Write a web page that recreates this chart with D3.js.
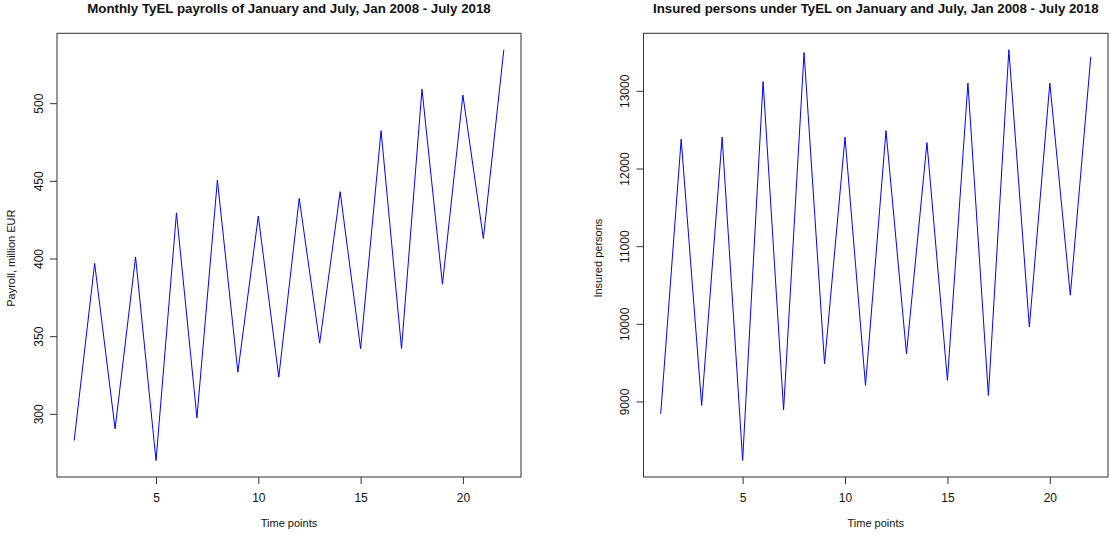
<!DOCTYPE html>
<html lang="en">
<head>
<meta charset="UTF-8">
<title>TyEL payrolls and insured persons</title>
<script src="https://cdn.jsdelivr.net/npm/d3@7"></script>
<style>
  body { margin: 0; background: #fff; }
  svg text { font-family: "Liberation Sans", Arial, sans-serif; fill: #111; }
</style>
</head>
<body>
<div id="chart"></div>
<script>
// January / July observations, Jan 2008 - July 2018
const timePoints = [1, 2, 3, 4, 5, 6, 7, 8, 9, 10, 11, 12, 13, 14, 15, 16, 17, 18, 19, 20, 21, 22]
const payroll = [282.8, 396.8, 290.3, 401, 269.9, 429.4, 297.4, 450.5, 326.8, 427.3, 323.6,
                 438.7, 345.5, 443, 341.9, 482.3, 342, 509, 383.4, 505.2, 412.9, 534.4]
const insured = [8841, 12377, 8948, 12403, 8239, 13120, 8893, 13494, 9486, 12403, 9206,
                 12488, 9615, 12333, 9271, 13099, 9077, 13529, 9959, 13099, 10368, 13439]

const xTicks = [5, 10, 15, 20]
const payrollTicks = [300, 350, 400, 450, 500]
const insuredTicks = [9000, 10000, 11000, 12000, 13000]

const width = 1110, height = 535
const plotTop = 33.3, plotBottom = 477

const svg = d3.select("#chart").append("svg")
    .attr("width", width)
    .attr("height", height)

// R style: 4% padding on each side of the data range
function padded(ext) {
  const d = (ext[1] - ext[0]) * 0.04
  return [ext[0] - d, ext[1] + d]
}

function drawPanel(p) {
  const x = d3.scaleLinear()
      .domain(padded(d3.extent(timePoints)))
      .range([p.left, p.right])
  const y = d3.scaleLinear()
      .domain(padded(d3.extent(p.values)))
      .range([plotBottom, plotTop])

  const g = svg.append("g")

  // x axis
  g.append("g")
      .attr("transform", `translate(0, ${plotBottom})`)
      .call(d3.axisBottom(x).tickValues(xTicks).tickSize(7).tickSizeOuter(0))
      .call(a => a.select(".domain").remove())
      .call(a => a.selectAll(".tick line").attr("stroke", "#333"))
      .call(a => a.selectAll("text")
          .attr("y", 25).attr("dy", null)
          .style("font-size", "12px")
          .style("font-family", null))

  // y axis, labels turned like R does (las = 0)
  g.append("g")
      .attr("transform", `translate(${p.left}, 0)`)
      .call(d3.axisLeft(y).tickValues(p.ticks).tickSize(7).tickSizeOuter(0).tickFormat(d3.format("d")))
      .call(a => a.select(".domain").remove())
      .call(a => a.selectAll(".tick line").attr("stroke", "#333"))
      .call(a => a.selectAll("text")
          .attr("x", null).attr("dy", null)
          .attr("text-anchor", "middle")
          .attr("transform", "translate(-14.5, 0) rotate(-90)")
          .style("font-size", "12px")
          .style("font-family", null))

  // plot box
  g.append("rect")
      .attr("x", p.left)
      .attr("y", plotTop)
      .attr("width", p.right - p.left)
      .attr("height", plotBottom - plotTop)
      .attr("fill", "none")
      .attr("stroke", "#333")
      .attr("stroke-width", 1)

  const line = d3.line()
      .x((d, i) => x(timePoints[i]))
      .y(d => y(d))

  g.append("path")
      .datum(p.values)
      .attr("fill", "none")
      .attr("stroke", "#0000ff")
      .attr("stroke-width", 1)
      .attr("d", line)

  // titles
  const cx = (p.left + p.right) / 2
  g.append("text")
      .attr("x", cx)
      .attr("y", 13)
      .attr("text-anchor", "middle")
      .style("font-size", "13.3px")
      .style("font-weight", "bold")
      .text(p.title)

  g.append("text")
      .attr("x", cx)
      .attr("y", 527)
      .attr("text-anchor", "middle")
      .style("font-size", "11px")
      .text("Time points")

  g.append("text")
      .attr("transform", `translate(${p.left - 42}, ${(plotTop + plotBottom) / 2 + 3}) rotate(-90)`)
      .attr("text-anchor", "middle")
      .style("font-size", "11px")
      .text(p.ylab)
}

drawPanel({
  left: 57, right: 521,
  values: payroll, ticks: payrollTicks,
  title: "Monthly TyEL payrolls of January and July, Jan 2008 - July 2018",
  ylab: "Payroll, million EUR"
})

drawPanel({
  left: 643.5, right: 1108,
  values: insured, ticks: insuredTicks,
  title: "Insured persons under TyEL on January and July, Jan 2008 - July 2018",
  ylab: "Insured persons"
})
</script>
</body>
</html>
